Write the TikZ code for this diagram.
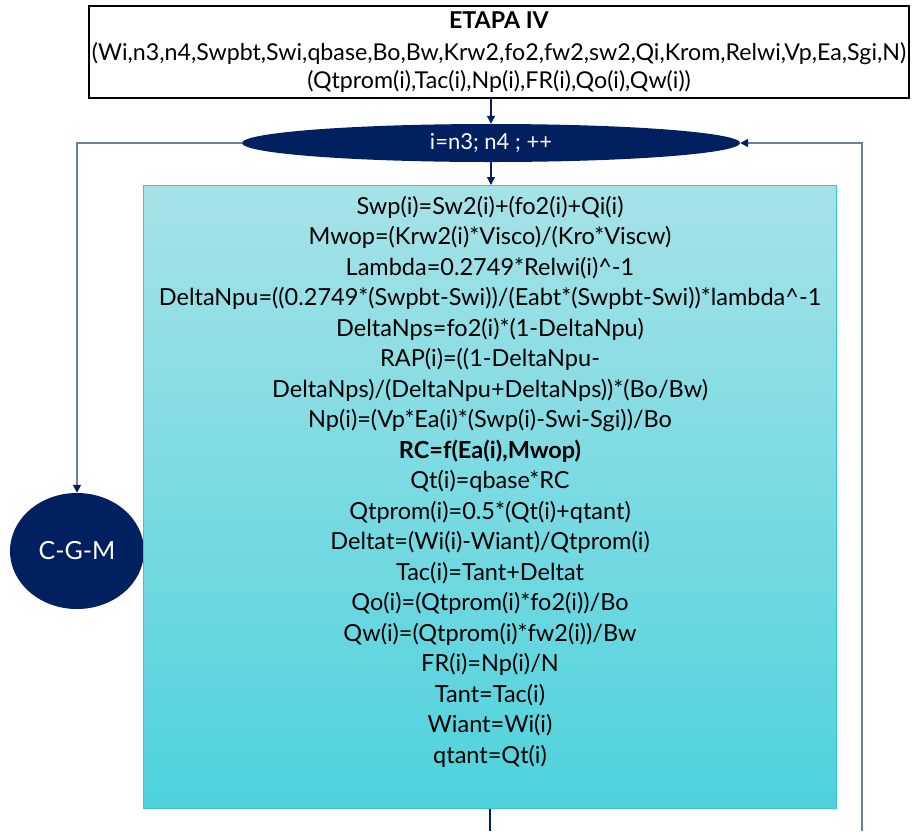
\documentclass[tikz,border=0pt]{standalone}
\usepackage{fontspec}
\setmainfont{Lato}
\usetikzlibrary{arrows.meta,shapes.geometric}
\definecolor{navy}{RGB}{0,32,96}
\definecolor{loopgray}{RGB}{110,125,158}
\definecolor{cyantop}{RGB}{166,226,232}
\definecolor{cyanbot}{RGB}{78,210,220}
\definecolor{cyanedge}{RGB}{50,200,212}
\begin{document}
\begin{tikzpicture}[x=1pt,y=-1pt,
  flow/.style={draw=navy, line width=1.2pt},
  loopl/.style={draw=loopgray, line width=1.6pt},
  tipped/.style={-{Triangle[length=8pt,width=8pt]}, arrows={[color=navy]}},
  navyshape/.style={ellipse, fill=navy, inner sep=0, text=white},
  bigtext/.style={font=\fontsize{23.5}{30.5}\selectfont, align=center, inner sep=0}]
\useasboundingbox (0,0) rectangle (913,831);
\node[draw=black, line width=2pt, minimum width=820, minimum height=92, anchor=north west, inner sep=0,
      font=\fontsize{23.2}{31}\selectfont, align=center] (etapa) at (88,5)
  {\textbf{ETAPA IV}\\[1pt](Wi,n3,n4,Swpbt,Swi,qbase,Bo,Bw,Krw2,fo2,fw2,sw2,Qi,Krom,Relwi,Vp,Ea,Sgi,N)\\[-3pt](Qtprom(i),Tac(i),Np(i),FR(i),Qo(i),Qw(i))};
\node[navyshape, minimum width=498, minimum height=38, font=\fontsize{22}{26}\selectfont] (loop) at (491,143) {i=n3; n4 ; ++};
\node[navyshape, minimum width=134, minimum height=116, font=\fontsize{25}{28}\selectfont] (cgm) at (77,551) {C-G-M};
\node[draw=cyanedge, line width=1pt, top color=cyantop, bottom color=cyanbot, minimum width=693, minimum height=623,
      anchor=north west, inner sep=0] (calc) at (143,185) {};
\node[bigtext, anchor=north] (calctext) at (490,196) {%
Swp(i)=Sw2(i)+(fo2(i)+Qi(i)\\
Mwop=(Krw2(i)*Visco)/(Kro*Viscw)\\
Lambda=0.2749*Relwi(i)\^{}-1\\
DeltaNpu=((0.2749*(Swpbt-Swi))/(Eabt*(Swpbt-Swi))*lambda\^{}-1\\
DeltaNps=fo2(i)*(1-DeltaNpu)\\
RAP(i)=((1-DeltaNpu-\\
DeltaNps)/(DeltaNpu+DeltaNps))*(Bo/Bw)\\
Np(i)=(Vp*Ea(i)*(Swp(i)-Swi-Sgi))/Bo\\
\textbf{RC=f(Ea(i),Mwop)}\\
Qt(i)=qbase*RC\\
Qtprom(i)=0.5*(Qt(i)+qtant)\\
Deltat=(Wi(i)-Wiant)/Qtprom(i)\\
Tac(i)=Tant+Deltat\\
Qo(i)=(Qtprom(i)*fo2(i))/Bo\\
Qw(i)=(Qtprom(i)*fw2(i))/Bw\\
FR(i)=Np(i)/N\\
Tant=Tac(i)\\
Wiant=Wi(i)\\
qtant=Qt(i)};
\coordinate (bl) at (490,831);
\coordinate (br) at (862,831);
\draw[flow, tipped] (loop.north |- etapa.south) -- (loop.north);
\draw[flow, tipped] (loop.south) -- (loop.south |- calc.north);
\draw[loopl, tipped] (loop.west) -| (cgm.north);
\draw[flow] (calc.south) -- (bl);
\draw[loopl, tipped] (br) |- (loop.east);
\end{tikzpicture}
\end{document}
